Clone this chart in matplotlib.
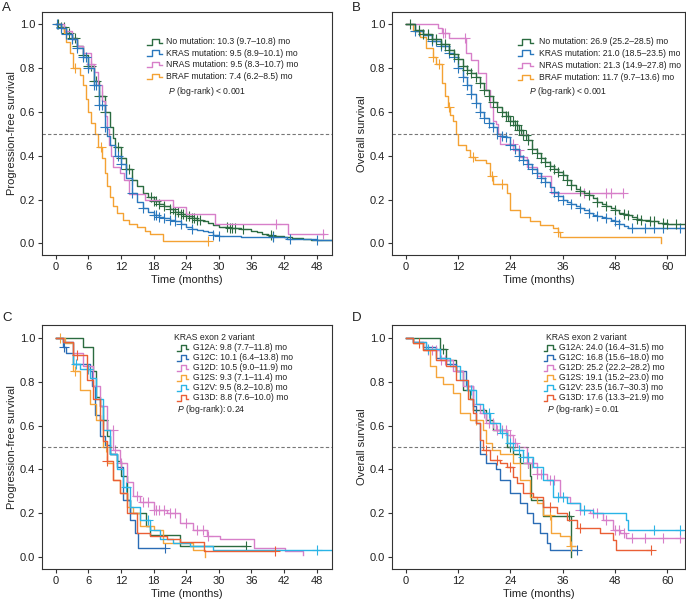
import numpy as np
import matplotlib
matplotlib.use("Agg")
import matplotlib.pyplot as plt

plt.rcParams["font.family"] = ["Liberation Sans", "DejaVu Sans"]
plt.rcParams["mathtext.fontset"] = "custom"
plt.rcParams["mathtext.it"] = "Liberation Sans:italic"
plt.rcParams["mathtext.rm"] = "Liberation Sans"

# ---------------- data (months, survival) ----------------
# Panel A - progression-free survival by mutation
A_NOMUT_T = [0, 1, 2, 3, 4, 5, 6, 7, 8, 9, 10, 10.5, 11, 12, 13, 14, 15, 16, 17, 18, 19, 20,
             21, 22, 23, 24, 25, 26, 27, 28, 29, 30, 32, 34, 36, 37, 38, 39, 40, 42, 43.5, 45.5, 47]
A_NOMUT_S = [1.0, 0.985, 0.96, 0.935, 0.90, 0.86, 0.81, 0.74, 0.67, 0.60, 0.53, 0.48, 0.44, 0.39,
             0.34, 0.29, 0.26, 0.23, 0.21, 0.195, 0.18, 0.17, 0.155, 0.145, 0.135, 0.125, 0.115,
             0.105, 0.10, 0.095, 0.085, 0.075, 0.07, 0.065, 0.055, 0.05, 0.045, 0.04, 0.035, 0.03,
             0.025, 0.02, 0.015]
A_NOMUT_END = 51
A_NOMUT_CENS = [0.5, 1, 1.5, 2, 2.5, 3, 3.5, 4, 5, 6, 6.5, 7, 7.5, 8, 8.5, 9, 11.5, 12, 13, 13.5,
                14, 17.5, 18, 18.5, 19, 20, 21, 21.5, 22, 22.5, 23, 23.5, 24, 24.5, 25, 25.5, 26,
                26.5, 31.5, 32, 32.5, 33, 34.5, 39.5, 40]

A_KRAS_T = [0, 1, 2, 3, 4, 5, 6, 7, 8, 9, 9.5, 10, 11, 12, 13, 14, 15, 16, 17, 18, 19, 20, 21, 22,
            23, 24, 25, 26, 27, 28, 29, 30, 34, 40, 42.5, 48]
A_KRAS_S = [1.0, 0.98, 0.955, 0.93, 0.89, 0.85, 0.80, 0.72, 0.63, 0.53, 0.49, 0.45, 0.40, 0.36,
            0.30, 0.23, 0.19, 0.16, 0.145, 0.13, 0.12, 0.115, 0.105, 0.10, 0.09, 0.075, 0.065,
            0.06, 0.055, 0.05, 0.04, 0.035, 0.03, 0.027, 0.02, 0.017]
A_KRAS_END = 51
A_KRAS_CENS = [0.3, 1, 2, 3, 4, 5, 5.5, 6, 7, 7.5, 8, 8.5, 9, 11.5, 12, 14, 16, 18, 18.5, 19, 20,
               21, 22, 23, 25, 29, 30, 40, 43, 48]

A_NRAS_T = [0, 1.5, 3, 4, 5, 6.5, 7, 7.8, 8.5, 9, 9.4, 9.8, 10.2, 10.6, 11.8, 12.5, 13.5, 16.5,
            21.5, 24, 29.3, 42.8]
A_NRAS_S = [1.0, 0.97, 0.93, 0.90, 0.87, 0.82, 0.78, 0.72, 0.65, 0.58, 0.52, 0.45, 0.40, 0.35,
            0.32, 0.29, 0.225, 0.20, 0.165, 0.135, 0.09, 0.045]
A_NRAS_END = 49.3
A_NRAS_CENS = [6.5, 40.5, 49.2]

A_BRAF_T = [0, 1, 1.5, 2, 2.6, 3.2, 4.5, 5, 5.5, 6, 6.5, 7.2, 7.8, 8.5, 9, 9.5, 10, 10.6, 11.2,
            12.4, 13.5, 14.9, 16.5, 17.4, 19.8]
A_BRAF_S = [1.0, 0.98, 0.96, 0.92, 0.87, 0.80, 0.77, 0.72, 0.66, 0.60, 0.55, 0.50, 0.44, 0.39,
            0.32, 0.26, 0.21, 0.17, 0.14, 0.105, 0.09, 0.073, 0.055, 0.043, 0.012]
A_BRAF_END = 28.1
A_BRAF_CENS = [3.5, 8.3, 28.1]

# Panel B - overall survival by mutation
B_NOMUT_T = [0, 2, 4, 6, 8, 10, 11, 12, 13, 14, 15, 16, 17, 18, 19, 20, 21, 22, 23, 24, 25, 26,
             27, 28, 29, 30, 31, 32, 33, 34, 35, 36, 37, 38, 39, 40, 41, 42, 43, 44, 45, 46, 47,
             48, 49, 50, 51, 52, 53, 54, 56, 58, 60]
B_NOMUT_S = [1.0, 0.975, 0.955, 0.93, 0.91, 0.88, 0.865, 0.84, 0.81, 0.79, 0.775, 0.76, 0.73,
             0.70, 0.67, 0.645, 0.62, 0.60, 0.58, 0.56, 0.54, 0.515, 0.495, 0.47, 0.43, 0.41,
             0.39, 0.37, 0.355, 0.34, 0.325, 0.31, 0.29, 0.265, 0.25, 0.24, 0.23, 0.22, 0.205,
             0.19, 0.18, 0.17, 0.16, 0.15, 0.14, 0.135, 0.13, 0.12, 0.11, 0.105, 0.10, 0.095, 0.09]
B_NOMUT_END = 64
B_NOMUT_CENS = [1, 3, 4, 5, 6, 7, 8, 9, 10, 11, 12, 13, 14, 15, 16, 17, 18, 19, 20, 21, 22, 23,
                23.5, 24, 24.5, 25, 25.5, 26, 26.5, 27, 27.5, 28, 29, 30, 31, 32, 33, 34, 35, 36,
                37, 38, 40, 42, 44, 46, 48, 50, 51, 53, 54, 56, 57, 59, 60, 62]

B_KRAS_T = [0, 2, 4, 6, 8, 10, 11, 12, 13, 14, 15, 16, 17, 18, 19, 20, 21, 22, 23, 24, 25, 26,
            27, 28, 29, 30, 31, 32, 33, 34, 35, 36, 37, 38, 39, 40, 41, 42, 43, 44, 45, 46, 47,
            48, 49, 50, 51]
B_KRAS_S = [1.0, 0.97, 0.95, 0.925, 0.90, 0.87, 0.85, 0.80, 0.76, 0.72, 0.68, 0.64, 0.60, 0.57,
            0.55, 0.53, 0.50, 0.49, 0.485, 0.45, 0.43, 0.40, 0.38, 0.36, 0.34, 0.32, 0.30, 0.28,
            0.255, 0.235, 0.215, 0.20, 0.19, 0.18, 0.17, 0.16, 0.15, 0.14, 0.13, 0.125, 0.12,
            0.115, 0.105, 0.10, 0.09, 0.08, 0.068]
B_KRAS_END = 64
B_KRAS_CENS = [2, 3, 5, 6, 7, 8, 9, 10, 11, 12, 13, 14, 15, 16, 17, 18, 19, 20, 21, 22, 23, 24,
               25, 26, 27, 28, 29, 30, 31, 32, 34, 35, 36, 38, 40, 42, 44, 46, 48, 49, 52, 55,
               57, 59, 63]

B_NRAS_T = [0, 7.4, 8.3, 9.8, 13.9, 15, 16.6, 18.5, 19.3, 20, 20.8, 21.2, 21.6, 24.6, 26.2, 27.7,
            30, 33.4]
B_NRAS_S = [1.0, 0.98, 0.96, 0.935, 0.87, 0.835, 0.775, 0.70, 0.62, 0.56, 0.545, 0.50, 0.455,
            0.425, 0.395, 0.35, 0.305, 0.228]
B_NRAS_END = 49.9
B_NRAS_CENS = [8.5, 9, 13.5, 24.5, 26, 41, 46, 47, 49.9]

B_BRAF_T = [0, 1.7, 3.2, 4.7, 6.3, 7, 8.2, 9, 9.7, 10.1, 10.9, 11.6, 12, 13.9, 14.7, 15.8, 18.5,
            19.3, 20, 23.1, 23.9, 26.2, 28.5, 30.8, 33.8, 35, 35.3, 58.7]
B_BRAF_S = [1.0, 0.97, 0.94, 0.89, 0.85, 0.82, 0.73, 0.67, 0.62, 0.585, 0.56, 0.50, 0.45, 0.425,
            0.395, 0.38, 0.365, 0.305, 0.27, 0.23, 0.15, 0.12, 0.10, 0.085, 0.068, 0.053, 0.03,
            0.0]
B_BRAF_END = 58.7
B_BRAF_CENS = [6.3, 7.5, 10, 15.5, 19.8, 22, 35]

# Panel C - PFS by KRAS exon 2 variant
C_G12A_T = [0, 5.1, 6.9, 7.5, 8.2, 8.8, 9.4, 10, 11.2, 12.1, 13.1, 13.7, 16.7, 17.4, 22.9]
C_G12A_S = [1.0, 0.96, 0.85, 0.73, 0.69, 0.625, 0.55, 0.47, 0.44, 0.37, 0.26, 0.20, 0.14, 0.10,
            0.05]
C_G12A_END = 35
C_G12A_CENS = [8.8, 35]

C_G12C_T = [0, 1.4, 2, 3.2, 6.3, 6.6, 7.2, 8.2, 9.1, 10, 11.2, 12.4, 13.7, 14.6, 15.2]
C_G12C_S = [1.0, 0.96, 0.93, 0.88, 0.85, 0.78, 0.65, 0.55, 0.51, 0.47, 0.41, 0.26, 0.17, 0.11, 0.04]
C_G12C_END = 20.1
C_G12C_CENS = [1.5, 20.1]

C_G12D_T = [0, 1.5, 3.2, 5, 6.9, 8.2, 9.4, 10.6, 11.8, 13.1, 14.3, 15.5, 18, 20.4, 22.9, 25.3,
            27.8, 30.2, 36.4, 42.2, 45.5]
C_G12D_S = [1.0, 0.98, 0.93, 0.87, 0.78, 0.69, 0.58, 0.49, 0.43, 0.34, 0.28, 0.25, 0.215, 0.20,
            0.155, 0.125, 0.094, 0.08, 0.04, 0.026, 0.01]
C_G12D_END = 45.5
C_G12D_CENS = [10.5, 11, 12, 15, 16, 17, 18, 18.5, 19, 20, 21, 22, 24, 26, 27, 28]

C_G12S_T = [0, 1.7, 3.2, 4.5, 6.3, 7.5, 8.8, 9.4, 10.6, 11.8, 13.1, 14.3, 15.5, 18, 19.8, 25.3,
            27.5]
C_G12S_S = [1.0, 0.975, 0.85, 0.76, 0.70, 0.625, 0.50, 0.43, 0.35, 0.29, 0.23, 0.20, 0.14, 0.125,
            0.064, 0.033, 0.0]
C_G12S_END = 27.5
C_G12S_CENS = [0.8, 3.5, 9.2]

C_G12V_T = [0, 1.4, 3.2, 4.5, 6.3, 7.5, 8.8, 10, 11.2, 12.4, 13.7, 15.5, 17.4, 19.2, 21.6, 24.7, 29]
C_G12V_S = [1.0, 0.98, 0.88, 0.86, 0.815, 0.72, 0.58, 0.47, 0.40, 0.32, 0.23, 0.17, 0.125, 0.08,
            0.064, 0.05, 0.033]
C_G12V_END = 51
C_G12V_CENS = [3.8, 6, 13, 17, 48]

C_G13D_T = [0, 1.4, 3.2, 5.7, 6.9, 8.2, 8.8, 9.4, 10.6, 11.8, 13.1, 14.9, 17.4, 20.4, 22.9, 27.2]
C_G13D_S = [1.0, 0.98, 0.92, 0.81, 0.72, 0.625, 0.53, 0.44, 0.35, 0.29, 0.20, 0.11, 0.094, 0.08,
            0.07, 0.026]
C_G13D_END = 40.3
C_G13D_CENS = [4, 9.5, 40.3]

# Panel D - OS by KRAS exon 2 variant
D_G12A_T = [0, 7.8, 9.3, 11.6, 13.2, 14.7, 15.5, 18.5, 20, 23.1, 24.6, 26.2, 28.5, 28.8, 31.5, 38]
D_G12A_S = [1.0, 0.95, 0.90, 0.85, 0.76, 0.72, 0.67, 0.625, 0.58, 0.50, 0.47, 0.43, 0.37, 0.26,
            0.185, 0.0]
D_G12A_END = 38
D_G12A_CENS = [8.5, 24, 28, 37.5]

D_G12C_T = [0, 1.7, 4, 7, 9.3, 11.6, 13.9, 15.5, 16.2, 17, 18.5, 20.8, 21.6, 23.9, 26.2, 27.7,
            29.2, 30.8, 32.3, 33]
D_G12C_S = [1.0, 0.98, 0.96, 0.91, 0.88, 0.85, 0.78, 0.69, 0.61, 0.47, 0.43, 0.40, 0.35, 0.29,
            0.245, 0.20, 0.155, 0.11, 0.064, 0.033]
D_G12C_END = 39.2
D_G12C_CENS = [39.2]

D_G12D_T = [0, 1.7, 4.7, 7.8, 10.9, 13.2, 15.5, 17, 18.5, 20.8, 23.1, 24.6, 25.4, 27.7, 30, 32.3,
            35.3, 37.6, 39.9, 42.2, 45.3, 47.6, 49.1, 50.6]
D_G12D_S = [1.0, 0.98, 0.945, 0.90, 0.85, 0.78, 0.70, 0.655, 0.61, 0.58, 0.557, 0.52, 0.50, 0.43,
            0.38, 0.35, 0.276, 0.245, 0.215, 0.20, 0.17, 0.124, 0.11, 0.086]
D_G12D_END = 63.6
D_G12D_CENS = [5, 6, 7, 8, 9, 18, 19, 20, 21, 22, 23, 24, 25, 28, 29, 30, 31, 33, 34, 40, 43,
               44, 46, 48, 49, 50, 52, 55, 59, 63]

D_G12S_T = [0, 1.7, 4, 5.5, 7, 8.6, 10.9, 12.4, 14.7, 17.8, 18.5, 19.7, 21.6, 24.6, 26.2, 28.5,
            30, 31.5, 33.4, 35.3, 37.6]
D_G12S_S = [1.0, 0.975, 0.945, 0.87, 0.82, 0.79, 0.75, 0.655, 0.625, 0.58, 0.52, 0.49, 0.47,
            0.43, 0.35, 0.276, 0.245, 0.19, 0.11, 0.094, 0.05]
D_G12S_END = 38.8
D_G12S_CENS = [16, 33, 38]

D_G12V_T = [0, 1.7, 4.7, 7.8, 10.1, 12.4, 14, 16.2, 17.8, 19.3, 21.6, 23.1, 24.6, 26.9, 29.2, 31.5,
            33.8, 36.9, 39.9, 43, 50.6, 51]
D_G12V_S = [1.0, 0.98, 0.95, 0.91, 0.87, 0.81, 0.76, 0.70, 0.655, 0.61, 0.565, 0.52, 0.49, 0.458,
            0.41, 0.35, 0.276, 0.245, 0.215, 0.20, 0.17, 0.124]
D_G12V_END = 63.6
D_G12V_CENS = [5, 15, 19, 22, 24, 26, 27, 28, 35, 36, 41, 57, 63]

D_G13D_T = [0, 1.7, 4, 7, 9.3, 11.6, 14.3, 15.5, 16.2, 17, 17.8, 19.3, 21.6, 23.1, 24.6, 25.4,
            26.9, 29.2, 31.5, 34.6, 36.9, 39.2, 44.5, 47.6, 48.3]
D_G13D_S = [1.0, 0.975, 0.945, 0.90, 0.87, 0.81, 0.72, 0.655, 0.61, 0.535, 0.49, 0.443, 0.43,
            0.41, 0.367, 0.337, 0.29, 0.276, 0.23, 0.20, 0.17, 0.132, 0.11, 0.079, 0.033]
D_G13D_END = 56.4
D_G13D_CENS = [3, 18.5, 21, 24, 33, 40, 56.4]

# labels
MUT_LABELS = ["No mutation: 10.3 (9.7\u201310.8) mo", "KRAS mutation: 9.5 (8.9\u201310.1) mo",
              "NRAS mutation: 9.5 (8.3\u201310.7) mo", "BRAF mutation: 7.4 (6.2\u20138.5) mo"]
MUT_LABELS_OS = ["No mutation: 26.9 (25.2\u201328.5) mo", "KRAS mutation: 21.0 (18.5\u201323.5) mo",
                 "NRAS mutation: 21.3 (14.9\u201327.8) mo", "BRAF mutation: 11.7 (9.7\u201313.6) mo"]
VAR_LABELS = ["G12A: 9.8 (7.7\u201311.8) mo", "G12C: 10.1 (6.4\u201313.8) mo",
              "G12D: 10.5 (9.0\u201311.9) mo", "G12S: 9.3 (7.1\u201311.4) mo",
              "G12V: 9.5 (8.2\u201310.8) mo", "G13D: 8.8 (7.6\u201310.0) mo"]
VAR_LABELS_OS = ["G12A: 24.0 (16.4\u201331.5) mo", "G12C: 16.8 (15.6\u201318.0) mo",
                 "G12D: 25.2 (22.2\u201328.2) mo", "G12S: 19.1 (15.2\u201323.0) mo",
                 "G12V: 23.5 (16.7\u201330.3) mo", "G13D: 17.6 (13.3\u201321.9) mo"]

MUT_COLORS = ["#2b6b40", "#2a78bd", "#d77fc9", "#f4a233"]
VAR_COLORS = ["#2b6b40", "#2a6cb5", "#d77fc9", "#f5a53a", "#2ab4e6", "#ea5f35"]

W, H = 686, 602
LEG_FS = 6.2


def step_val(t, s, x):
    i = np.searchsorted(np.asarray(t), np.asarray(x), side="right") - 1
    return np.asarray(s)[np.clip(i, 0, len(s) - 1)]


def km(ax, t, s, end, cens, color):
    tt = list(t) + [end]
    ss = list(s) + [s[-1]]
    ax.step(tt, ss, where="post", color=color, lw=1.0)
    if cens:
        ax.plot(cens, step_val(t, s, cens), ls="none", marker="+", ms=6.5, mew=0.8, color=color)


def setup(ax, xmax, xstep, xlim, ylim, ylabel):
    ax.set_xlim(*xlim)
    ax.set_ylim(*ylim)
    ax.set_xticks(np.arange(0, xmax + 1, xstep))
    ax.set_yticks([0, 0.2, 0.4, 0.6, 0.8, 1.0])
    ax.set_yticklabels(["0.0", "0.2", "0.4", "0.6", "0.8", "1.0"])
    ax.tick_params(labelsize=8, length=3, width=0.8, pad=2, color="#333333", labelcolor="#222222")
    ax.axhline(0.5, color="#777777", ls=(0, (3, 2)), lw=0.8)
    for sp in ax.spines.values():
        sp.set_linewidth(0.8)
        sp.set_color("#333333")
    ax.set_xlabel("Time (months)", fontsize=8, labelpad=2, color="#222222")
    ax.set_ylabel(ylabel, fontsize=8, labelpad=2, color="#222222")


def legend(ax, labels, colors, icon_x, text_x, ys, p_text, p_pos, title=None, title_pos=None):
    tr = ax.transAxes
    w = icon_x[1] - icon_x[0]
    for lab, col, y in zip(labels, colors, ys):
        xs = [icon_x[0], icon_x[0] + 0.3 * w, icon_x[0] + 0.3 * w, icon_x[0] + 0.8 * w,
              icon_x[0] + 0.8 * w, icon_x[1]]
        yy = [y - 0.011, y - 0.011, y + 0.011, y + 0.011, y - 0.004, y - 0.004]
        ax.plot(xs, yy, color=col, lw=1.0, transform=tr)
        ax.text(text_x, y, lab, transform=tr, fontsize=LEG_FS, va="center", ha="left",
                color="#222222")
    ax.text(p_pos[0], p_pos[1], p_text, transform=tr, fontsize=LEG_FS, va="center", ha="left",
            color="#222222")
    if title:
        ax.text(title_pos[0], title_pos[1], title, transform=tr, fontsize=LEG_FS, va="center",
                ha="left", color="#222222")


fig = plt.figure(figsize=(6.86, 6.02), dpi=100)


def add_axes(l, t, r, b):
    return fig.add_axes([l / W, 1 - b / H, (r - l) / W, (b - t) / H])


axA = add_axes(42, 12, 332, 255)
axB = add_axes(392, 12, 685, 255)
axC = add_axes(42, 325, 332, 569)
axD = add_axes(392, 325, 685, 569)

# A
km(axA, A_NOMUT_T, A_NOMUT_S, A_NOMUT_END, A_NOMUT_CENS, MUT_COLORS[0])
km(axA, A_NRAS_T, A_NRAS_S, A_NRAS_END, A_NRAS_CENS, MUT_COLORS[2])
km(axA, A_BRAF_T, A_BRAF_S, A_BRAF_END, A_BRAF_CENS, MUT_COLORS[3])
km(axA, A_KRAS_T, A_KRAS_S, A_KRAS_END, A_KRAS_CENS, MUT_COLORS[1])
setup(axA, 48, 6, (-2.5, 50.8), (-0.053, 1.055), "Progression-free survival")
legend(axA, MUT_LABELS, MUT_COLORS, (0.362, 0.414), 0.428, [0.877, 0.831, 0.784, 0.735],
       "$P$ (log-rank) < 0.001", (0.434, 0.671))

# B
km(axB, B_NRAS_T, B_NRAS_S, B_NRAS_END, B_NRAS_CENS, MUT_COLORS[2])
km(axB, B_BRAF_T, B_BRAF_S, B_BRAF_END, B_BRAF_CENS, MUT_COLORS[3])
km(axB, B_KRAS_T, B_KRAS_S, B_KRAS_END, B_KRAS_CENS, MUT_COLORS[1])
km(axB, B_NOMUT_T, B_NOMUT_S, B_NOMUT_END, B_NOMUT_CENS, MUT_COLORS[0])
setup(axB, 60, 12, (-3.2, 64.1), (-0.053, 1.055), "Overall survival")
legend(axB, MUT_LABELS_OS, MUT_COLORS, (0.430, 0.481), 0.502, [0.877, 0.831, 0.781, 0.730],
       "$P$ (log-rank) < 0.001", (0.467, 0.671))

# C
c_sets = [(C_G12A_T, C_G12A_S, C_G12A_END, C_G12A_CENS), (C_G12C_T, C_G12C_S, C_G12C_END, C_G12C_CENS),
          (C_G12D_T, C_G12D_S, C_G12D_END, C_G12D_CENS), (C_G12S_T, C_G12S_S, C_G12S_END, C_G12S_CENS),
          (C_G12V_T, C_G12V_S, C_G12V_END, C_G12V_CENS), (C_G13D_T, C_G13D_S, C_G13D_END, C_G13D_CENS)]
for (t, s, e, c), col in zip(c_sets, VAR_COLORS):
    km(axC, t, s, e, c, col)
setup(axC, 48, 6, (-2.5, 50.8), (-0.055, 1.059), "Progression-free survival")
var_ys = [0.906, 0.865, 0.824, 0.783, 0.742, 0.701]
legend(axC, VAR_LABELS, VAR_COLORS, (0.467, 0.505), 0.519, var_ys,
       "$P$ (log-rank): 0.24", (0.464, 0.652), "KRAS exon 2 variant", (0.454, 0.947))

# D
d_sets = [(D_G12A_T, D_G12A_S, D_G12A_END, D_G12A_CENS), (D_G12C_T, D_G12C_S, D_G12C_END, D_G12C_CENS),
          (D_G12D_T, D_G12D_S, D_G12D_END, D_G12D_CENS), (D_G12S_T, D_G12S_S, D_G12S_END, D_G12S_CENS),
          (D_G12V_T, D_G12V_S, D_G12V_END, D_G12V_CENS), (D_G13D_T, D_G13D_S, D_G13D_END, D_G13D_CENS)]
for (t, s, e, c), col in zip(d_sets, VAR_COLORS):
    km(axD, t, s, e, c, col)
setup(axD, 60, 12, (-3.2, 64.1), (-0.055, 1.059), "Overall survival")
legend(axD, VAR_LABELS_OS, VAR_COLORS, (0.519, 0.556), 0.570, var_ys,
       "$P$ (log-rank) = 0.01", (0.529, 0.652), "KRAS exon 2 variant", (0.526, 0.947))

for letter, (x, y) in zip("ABCD", [(2, 8), (352, 8), (2, 318), (352, 318)]):
    fig.text(x / W, 1 - y / H, letter, fontsize=9.5, va="center", ha="left", color="#222222")

fig.savefig("out.png", dpi=100)
